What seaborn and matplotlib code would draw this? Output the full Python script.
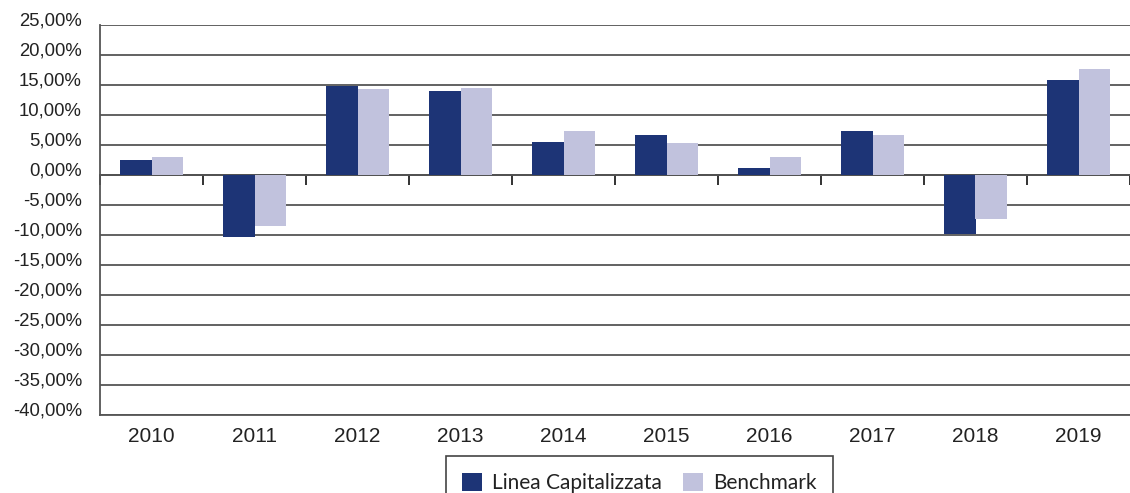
import numpy as np
import pandas as pd
import matplotlib
matplotlib.use("Agg")
import matplotlib.pyplot as plt
import matplotlib.transforms as mtrans
import seaborn as sns

years = ["2010", "2011", "2012", "2013", "2014", "2015", "2016", "2017", "2018", "2019"]
linea = [2.5, -10.4, 14.9, 14.0, 5.5, 6.7, 1.2, 7.3, -9.8, 15.8]
benchmark = [3.0, -8.5, 14.3, 14.5, 7.3, 5.3, 3.0, 6.7, -7.3, 17.7]
series_names = ["Linea Capitalizzata", "Benchmark"]
colors = ["#1d3476", "#c1c2dd"]
yticks = list(range(-40, 30, 5))

df = pd.DataFrame({
    "Anno": years * 2,
    "Valore": linea + benchmark,
    "Serie": [series_names[0]] * len(years) + [series_names[1]] * len(years),
})

sns.set_theme(style="white")
plt.rcParams["font.family"] = ["Liberation Sans", "DejaVu Sans"]

fig = plt.figure(figsize=(11.3, 4.93), dpi=100)
ax = fig.add_axes([100 / 1130, 1 - 415 / 493, 1030 / 1130, 390 / 493])

sns.barplot(data=df, x="Anno", y="Valore", hue="Serie", palette=colors,
            width=0.62, gap=0, saturation=1, ax=ax, legend=True)
for p in ax.patches:
    p.set_edgecolor("none")

ax.set_ylim(-40, 25)
ax.set_xlim(-0.5, 9.5)
ax.set_yticks(yticks)
ax.set_yticklabels([f"{v},00%" for v in yticks], fontsize=13.3, color="#222222")
ax.set_xlabel("")
ax.set_ylabel("")
ax.tick_params(axis="y", length=0, pad=13)
ax.tick_params(axis="x", length=0, pad=9, labelsize=15, labelcolor="#222222")
ax.set_axisbelow(True)
ax.yaxis.grid(True, color="#555555", linewidth=1.3)
ax.xaxis.grid(False)

offset = mtrans.ScaledTranslation(0, 6 / 100, fig.dpi_scale_trans)
for lab in ax.get_yticklabels():
    lab.set_transform(lab.get_transform() + offset)

for s in ["top", "right"]:
    ax.spines[s].set_visible(False)
for s in ["left", "bottom"]:
    ax.spines[s].set_color("#555555")
    ax.spines[s].set_linewidth(1.3)

sec = ax.secondary_xaxis(0, transform=ax.transData)
sec.set_xticks(np.arange(-0.5, 10, 1.0))
sec.set_xticklabels([])
sec.tick_params(axis="x", direction="out", length=7, width=1.3, color="#222222")
for s in sec.spines.values():
    s.set_color("#222222")
    s.set_linewidth(1.3)

handles, labels = ax.get_legend_handles_labels()
ax.get_legend().remove()
leg = fig.legend(handles, labels, loc="upper center",
                 bbox_to_anchor=(639.5 / 1130, 1 - 456 / 493),
                 ncol=2, frameon=True, fancybox=False, framealpha=1,
                 edgecolor="#444444", handlelength=0.95, handleheight=0.95,
                 handletextpad=0.5, columnspacing=1.0, borderpad=0.8,
                 borderaxespad=0,
                 prop={"family": ["Lato", "DejaVu Sans"], "size": 15})
leg.get_frame().set_linewidth(1.2)
for t in leg.get_texts():
    t.set_color("#222222")

fig.savefig("out.png", dpi=100)
